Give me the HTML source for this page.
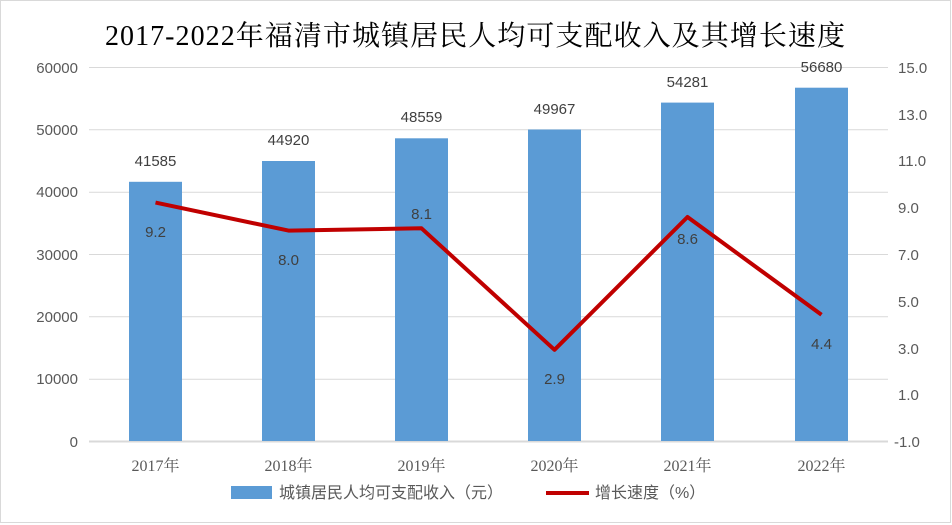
<!DOCTYPE html><html><head><meta charset="utf-8"><style>body{margin:0;background:#fff}svg{display:block}</style></head><body>
<svg width="952" height="525" xmlns="http://www.w3.org/2000/svg" font-family="Liberation Sans, Noto Sans CJK SC, sans-serif">
<rect x="0.5" y="0.5" width="950" height="522" fill="#fff" stroke="#d9d9d9"/>
<text x="105" y="45" textLength="740" font-size="28" font-family="Liberation Serif, Noto Serif CJK SC, serif" fill="#000">2017-2022年福清市城镇居民人均可支配收入及其增长速度</text>
<g stroke="#d9d9d9" stroke-width="1">
<line x1="89" x2="888" y1="67.5" y2="67.5"/><line x1="89" x2="888" y1="129.8" y2="129.8"/><line x1="89" x2="888" y1="192.2" y2="192.2"/><line x1="89" x2="888" y1="254.5" y2="254.5"/><line x1="89" x2="888" y1="316.8" y2="316.8"/><line x1="89" x2="888" y1="379.2" y2="379.2"/><line x1="89" x2="888" y1="441.5" y2="441.5" stroke-width="2"/>
</g>
<g fill="#595959" font-size="15" text-anchor="end">
<text x="78" y="73">60000</text><text x="78" y="135">50000</text><text x="78" y="197">40000</text><text x="78" y="260">30000</text><text x="78" y="322">20000</text><text x="78" y="384">10000</text><text x="78" y="447">0</text>
</g>
<g fill="#595959" font-size="15" text-anchor="start">
<text x="898" y="73">15.0</text><text x="898" y="120">13.0</text><text x="898" y="166">11.0</text><text x="898" y="213">9.0</text><text x="898" y="260">7.0</text><text x="898" y="307">5.0</text><text x="898" y="354">3.0</text><text x="898" y="400">1.0</text><text x="894" y="447">-1.0</text>
</g>
<g fill="#5b9bd5">
<rect x="129" y="181.8" width="53" height="259.2"/>
<rect x="262" y="161" width="53" height="280"/>
<rect x="395" y="138.3" width="53" height="302.7"/>
<rect x="528" y="129.5" width="53" height="311.5"/>
<rect x="661" y="102.6" width="53" height="338.4"/>
<rect x="795" y="87.7" width="53" height="353.3"/>
</g>
<g fill="#404040" font-size="15" text-anchor="middle">
<text x="155.5" y="166">41585</text><text x="288.5" y="145">44920</text><text x="421.5" y="122">48559</text><text x="554.5" y="114">49967</text><text x="687.5" y="87">54281</text><text x="821.5" y="72">56680</text>
</g>
<polyline fill="none" stroke="#c00000" stroke-width="4" stroke-linejoin="round" points="155.5,202.6 288.5,230.6 421.5,228.3 554.5,349.8 687.5,217 821.5,314.8"/>
<g fill="#404040" font-size="15" text-anchor="middle">
<text x="155.5" y="237">9.2</text><text x="288.5" y="265">8.0</text><text x="421.5" y="219">8.1</text><text x="554.5" y="384">2.9</text><text x="687.5" y="244">8.6</text><text x="821.5" y="349">4.4</text>
</g>
<g fill="#595959" font-size="16" text-anchor="middle" font-family="Liberation Serif, Noto Serif CJK SC, serif">
<text x="155.5" y="471">2017年</text><text x="288.5" y="471">2018年</text><text x="421.5" y="471">2019年</text><text x="554.5" y="471">2020年</text><text x="687.5" y="471">2021年</text><text x="821.5" y="471">2022年</text>
</g>
<rect x="231" y="486" width="41" height="13" fill="#5b9bd5"/>
<text x="279" y="498" font-size="16" fill="#595959">城镇居民人均可支配收入（元）</text>
<line x1="546" x2="589" y1="493" y2="493" stroke="#c00000" stroke-width="4"/>
<text x="595" y="498" font-size="16" fill="#595959">增长速度（%）</text>
</svg>
</body></html>
